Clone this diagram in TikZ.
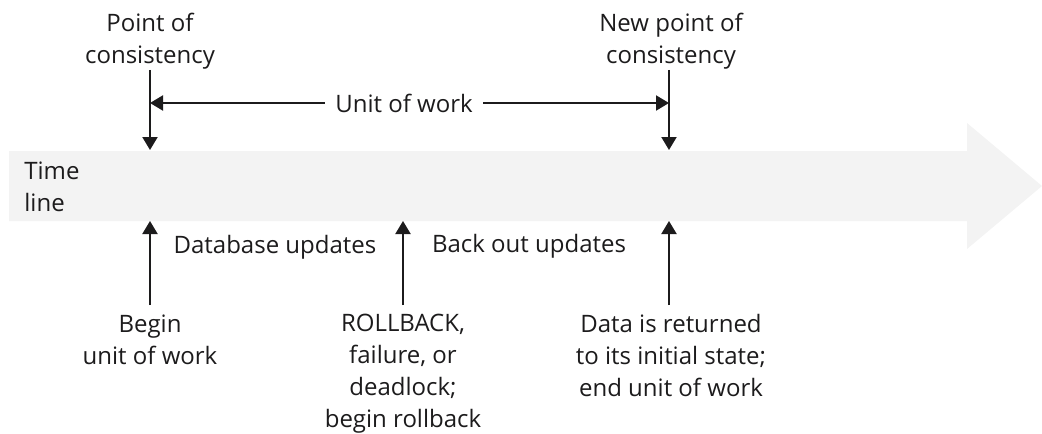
\documentclass[tikz,border=0pt]{standalone}
\usepackage{fontspec}
\setmainfont{Open Sans}
\usepackage{xcolor}
\usetikzlibrary{arrows.meta}
\definecolor{ink}{HTML}{1C1B1C}
\definecolor{band}{HTML}{F3F3F3}

\begin{document}
\begin{tikzpicture}[x=0.5pt,y=-0.5pt,
  flow/.style={draw=ink, line width=1pt, -{Triangle[width=7.5pt,length=6.5pt]}},
  lbl/.style={text=ink, font=\fontsize{12}{16}\selectfont, align=center, inner sep=0pt}]
  \useasboundingbox (0,0) rectangle (1042,433);
  % time line
  \fill[band] (9,151) -- (967,151) -- (967,123) -- (1042,186) -- (967,249) -- (967,221) -- (9,221) -- cycle;
  \node (time) [lbl, align=left, anchor=west] at (24,187) {Time\\line};
  % points of consistency
  \node (poc) [lbl, anchor=south] at (150,70) {Point of\\consistency};
  \node (npoc) [lbl, anchor=south] at (671,70) {New point of\\consistency};
  \coordinate (top1) at (150,70);
  \coordinate (top2) at (669,70);
  \coordinate (hit1) at (150,150);
  \coordinate (hit2) at (669,150);
  \draw[flow] (top1) -- (hit1);
  \draw[flow] (top2) -- (hit2);
  \node (uow) [lbl, inner sep=5pt] at (404,103) {Unit of work};
  \draw[flow] (uow.west) -- (uow.west -| hit1);
  \draw[flow] (uow.east) -- (uow.east -| hit2);
  % updates
  \node (dbu) [lbl] at (275,247) {Database updates};
  \node (bou) [lbl] at (529,246) {Back out updates};
  % events below
  \coordinate (low1) at (150,305);
  \coordinate (low2) at (403,305);
  \coordinate (low3) at (669,305);
  \coordinate (up1) at (150,221);
  \coordinate (up2) at (403,221);
  \coordinate (up3) at (669,221);
  \draw[flow] (low1) -- (up1);
  \draw[flow] (low2) -- (up2);
  \draw[flow] (low3) -- (up3);
  \node (begin) [lbl, anchor=north] at (150,314) {Begin\\unit of work};
  \node (rollback) [lbl, anchor=north] at (403,314) {ROLLBACK,\\failure, or\\deadlock;\\begin rollback};
  \node (restore) [lbl, anchor=north] at (671,314) {Data is returned\\to its initial state;\\end unit of work};
\end{tikzpicture}
\end{document}
